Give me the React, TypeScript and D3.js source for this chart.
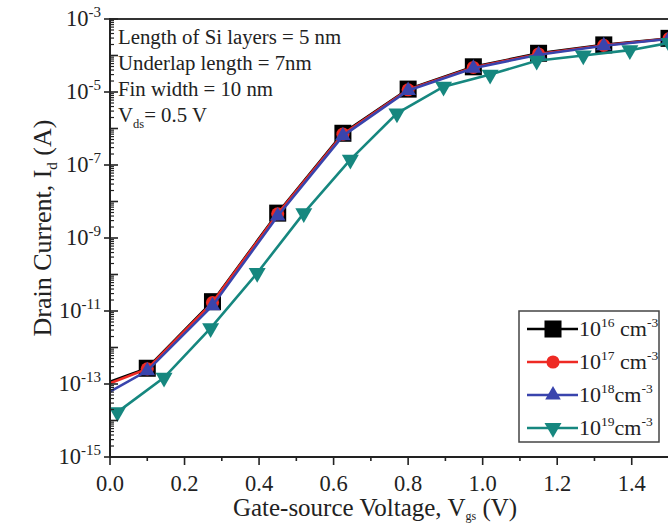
import * as d3 from 'd3';

// gate voltage samples (V)
const vgsMain = [0, 0.1, 0.275, 0.45, 0.625, 0.8, 0.975, 1.15, 1.325, 1.5];
const vgsTeal = [0.02, 0.145, 0.27, 0.395, 0.52, 0.645, 0.77, 0.895, 1.02, 1.145, 1.27, 1.395, 1.5];

// drain current (A)
const id16 = [1.15e-13, 2.7e-13, 1.8e-11, 4.8e-9, 7.4e-7, 1.2e-5, 4.9e-5, 1.15e-4, 1.95e-4, 2.95e-4];
const id17 = [1.05e-13, 2.6e-13, 1.7e-11, 4.6e-9, 7.0e-7, 1.15e-5, 4.7e-5, 1.1e-4, 1.9e-4, 2.9e-4];
const id18 = [6.2e-14, 2.3e-13, 1.4e-11, 4.0e-9, 6.3e-7, 1.1e-5, 4.5e-5, 1.05e-4, 1.85e-4, 2.85e-4];
const id19 = [1.7e-14, 1.5e-13, 3.4e-12, 1.1e-10, 4.8e-9, 1.4e-7, 2.6e-6, 1.4e-5, 3.0e-5, 7.2e-5, 1.0e-4, 1.4e-4, 2.2e-4];

const xTicks = [0, 0.2, 0.4, 0.6, 0.8, 1.0, 1.2, 1.4];
const yLabelExps = [-3, -5, -7, -9, -11, -13, -15];
const annotations = ['Length of Si layers = 5 nm', 'Underlap length = 7nm', 'Fin width = 10 nm'];

const font = "'Liberation Serif', 'Times New Roman', serif";

const series = [
  { exp: '16', gap: true, color: '#000000', shape: 'square', xs: vgsMain, ys: id16 },
  { exp: '17', gap: true, color: '#ee2a24', shape: 'circle', xs: vgsMain, ys: id17 },
  { exp: '18', gap: false, color: '#3944ad', shape: 'up', xs: vgsMain, ys: id18 },
  { exp: '19', gap: false, color: '#16877f', shape: 'down', xs: vgsTeal, ys: id19 },
];

const symbolPath = (shape: string) => {
  if (shape === 'square') return d3.symbol(d3.symbolSquare, 290)()!;
  if (shape === 'circle') return d3.symbol(d3.symbolCircle, 135)()!;
  return d3.symbol(d3.symbolTriangle, shape === 'up' ? 105 : 125)()!;
};

const Marker = ({ shape, color, x, y }: any) => (
  <path
    d={symbolPath(shape)}
    fill={color}
    transform={`translate(${x},${y})${shape === 'down' ? ' rotate(180)' : ''}`}
  />
);

export default function App() {
  const W = 668, H = 527;
  const x = d3.scaleLinear().domain([0, 1.5]).range([110, 669]);
  const y = d3.scaleLog().domain([1e-15, 1e-3]).range([457, 19]);

  const line = d3.line<[number, number]>().x(d => x(d[0])).y(d => y(d[1]));

  const minorX = d3.range(0, 1.51, 0.1);
  const decades = d3.range(-15, -2);
  const minorY: number[] = [];
  decades.forEach(e => { if (e < -3) for (let k = 2; k < 10; k++) minorY.push(k * Math.pow(10, e)); });

  const legendRows = [329, 362, 395, 428];

  return (
    <svg width={W} height={H} style={{ position: 'absolute', left: 0, top: 0, background: '#fff', fontFamily: font }}>
      <rect width={W} height={H} fill="#fff" />

      {/* series */}
      {series.map(s => {
        const pts = s.xs.map((v, i) => [v, s.ys[i]] as [number, number]);
        return (
          <g key={s.exp}>
            <path d={line(pts)!} fill="none" stroke={s.color} strokeWidth={2.6} />
            {pts.filter(p => p[0] > 0).map((p, i) => (
              <Marker key={i} shape={s.shape} color={s.color} x={x(p[0])} y={y(p[1])} />
            ))}
          </g>
        );
      })}

      {/* axes frame */}
      <line x1={109} x2={W} y1={19} y2={19} stroke="#333" strokeWidth={2} />
      <line x1={110} x2={110} y1={18} y2={458} stroke="#222" strokeWidth={2} />
      <line x1={109} x2={W} y1={457} y2={457} stroke="#222" strokeWidth={2} />

      {/* x ticks */}
      {minorX.map((v, i) => (
        <line key={i} x1={x(v)} x2={x(v)} y1={457} y2={457 + (i % 2 === 0 ? 8 : 4)} stroke="#222" strokeWidth={1.6} />
      ))}
      {xTicks.map(v => (
        <text key={v} x={x(v)} y={491} textAnchor="middle" fontSize={22.5} fill="#222">{v.toFixed(1)}</text>
      ))}

      {/* y ticks */}
      {decades.map(e => (
        <line key={e} x1={yLabelExps.includes(e) ? 104 : 110} x2={118} y1={y(Math.pow(10, e))} y2={y(Math.pow(10, e))} stroke="#222" strokeWidth={1.6} />
      ))}
      {minorY.map((v, i) => (
        <line key={i} x1={110} x2={114} y1={y(v)} y2={y(v)} stroke="#222" strokeWidth={1.2} />
      ))}
      {yLabelExps.map(e => (
        <text key={e} x={101} y={y(Math.pow(10, e)) + 7} textAnchor="end" fontSize={22.5} fill="#222">
          10<tspan dy={-9} fontSize={15}>{e}</tspan>
        </text>
      ))}

      {/* axis titles */}
      <text x={375} y={516} textAnchor="middle" fontSize={25} fill="#222">
        Gate-source Voltage, V<tspan dy={4} fontSize={12}>gs</tspan><tspan dy={-4}> (V)</tspan>
      </text>
      <text transform="translate(51,228) rotate(-90)" textAnchor="middle" fontSize={26} fill="#222">
        Drain Current, I<tspan dy={6} fontSize={15}>d</tspan><tspan dy={-6}> (A)</tspan>
      </text>

      {/* annotations */}
      {annotations.map((t, i) => (
        <text key={t} x={118} y={44 + i * 26} fontSize={20.8} fill="#222">{t}</text>
      ))}
      <text x={118} y={122} fontSize={20.8} fill="#222">
        V<tspan dy={6} fontSize={12.5}>ds</tspan><tspan dy={-6}>= 0.5 V</tspan>
      </text>

      {/* legend */}
      <rect x={519} y={311} width={140} height={131} fill="#fff" stroke="#444" strokeWidth={1.5} />
      {series.map((s, i) => (
        <g key={s.exp}>
          <line x1={527} x2={578} y1={legendRows[i]} y2={legendRows[i]} stroke={s.color} strokeWidth={2.6} />
          <Marker shape={s.shape} color={s.color} x={553} y={legendRows[i]} />
          <text x={579} y={legendRows[i] + 7} fontSize={22} fill="#222">
            10<tspan dy={-9} fontSize={13.5}>{s.exp}</tspan>
            <tspan dy={9}>{s.gap ? ' cm' : 'cm'}</tspan>
            <tspan dy={-9} fontSize={13.5}>-3</tspan>
          </text>
        </g>
      ))}
    </svg>
  );
}
